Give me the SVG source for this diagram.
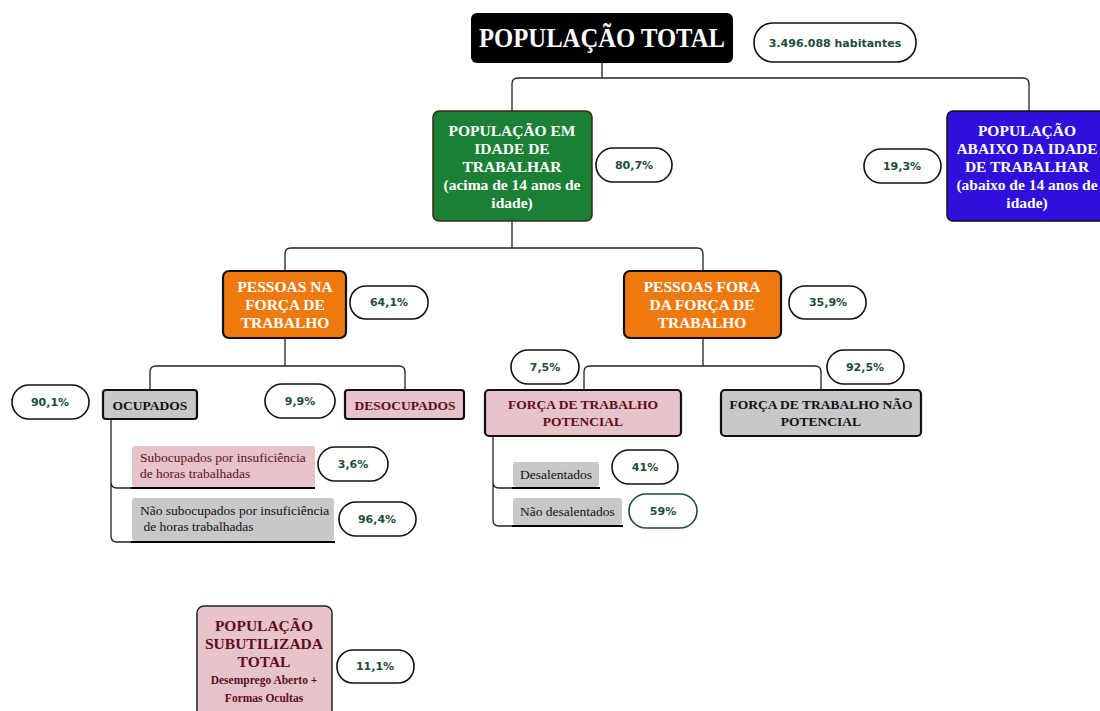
<svg xmlns="http://www.w3.org/2000/svg" width="1100" height="711" viewBox="0 0 1100 711">
<style>
.pill{fill:#fff;stroke:#111;stroke-width:1.6}
.pt{font-family:"DejaVu Sans",Verdana,sans-serif;font-weight:bold;font-size:11px;fill:#1d4d39;text-anchor:middle}
.wt{font-family:"Liberation Serif","Times New Roman",serif;font-weight:bold;fill:#fff;text-anchor:middle}
.dt{font-family:"Liberation Serif","Times New Roman",serif;font-weight:bold;fill:#5e0d1c;text-anchor:middle}
.kt{font-family:"Liberation Serif","Times New Roman",serif;font-weight:bold;fill:#111;text-anchor:middle}
.st{font-family:"Liberation Serif","Times New Roman",serif;font-size:13.5px}
.con{fill:none;stroke:#222;stroke-width:1.3}
.ul{stroke:#000;stroke-width:2.2}
</style>
<g id="connectors">
<path class="con" d="M602 63V78M512 111V84Q512 78 518 78H1023Q1029 78 1029 84V111"/>
<path class="con" d="M512 221V248M285 272V254Q285 248 291 248H697Q703 248 703 254V272"/>
<path class="con" d="M285 338V366M150 390V372Q150 366 156 366H399Q405 366 405 372V390"/>
<path class="con" d="M703 338V366M584 390V372Q584 366 590 366H815Q821 366 821 372V390"/>
<path class="con" d="M111 419V482Q111 488 117 488H131M111 482V536Q111 542 117 542H131"/>
<path class="con" d="M493 436V482Q493 488 499 488H512M493 482V520Q493 526 499 526H512"/>
</g>
<g id="n-total">
<rect x="471" y="13" width="262" height="50" rx="6" fill="#000"/>
<text class="wt" x="602" y="47" font-size="27" textLength="246" lengthAdjust="spacingAndGlyphs">POPULAÇÃO TOTAL</text>
</g>
<g id="p-total"><rect class="pill" x="754" y="23" width="162" height="39" rx="19"/><text class="pt" x="835" y="47">3.496.088 habitantes</text></g>
<g id="n-idade">
<rect x="433" y="111" width="159" height="110" rx="6" fill="#1b7f35" stroke="#3a2a1a" stroke-width="1.5"/>
<text class="wt" font-size="15.5"><tspan x="512" y="136">POPULAÇÃO EM</tspan><tspan x="512" y="154">IDADE DE</tspan><tspan x="512" y="172">TRABALHAR</tspan><tspan x="512" y="190">(acima de 14 anos de</tspan><tspan x="512" y="208">idade)</tspan></text>
</g>
<g id="p-idade"><rect class="pill" x="596" y="148" width="76" height="34" rx="17"/><text class="pt" x="634" y="169">80,7%</text></g>
<g id="n-abaixo">
<rect x="947" y="111" width="160" height="110" rx="6" fill="#2e0fdc" stroke="#111" stroke-width="1.5"/>
<text class="wt" font-size="15.5"><tspan x="1027" y="136">POPULAÇÃO</tspan><tspan x="1027" y="154">ABAIXO DA IDADE</tspan><tspan x="1027" y="172">DE TRABALHAR</tspan><tspan x="1027" y="190">(abaixo de 14 anos de</tspan><tspan x="1027" y="208">idade)</tspan></text>
</g>
<g id="p-abaixo"><rect class="pill" x="864" y="149" width="77" height="34" rx="17"/><text class="pt" x="902" y="170">19,3%</text></g>
<g id="n-na">
<rect x="223" y="271" width="123" height="67" rx="6" fill="#ee790f" stroke="#111" stroke-width="2.2"/>
<text class="wt" font-size="15.5"><tspan x="285" y="292">PESSOAS NA</tspan><tspan x="285" y="310">FORÇA DE</tspan><tspan x="285" y="328">TRABALHO</tspan></text>
</g>
<g id="p-na"><rect class="pill" x="350" y="286" width="78" height="33" rx="16"/><text class="pt" x="389" y="306">64,1%</text></g>
<g id="n-fora">
<rect x="624" y="271" width="157" height="67" rx="6" fill="#ee790f" stroke="#111" stroke-width="2.2"/>
<text class="wt" font-size="15.5"><tspan x="702" y="292">PESSOAS FORA</tspan><tspan x="702" y="310">DA FORÇA DE</tspan><tspan x="702" y="328">TRABALHO</tspan></text>
</g>
<g id="p-fora"><rect class="pill" x="789" y="286" width="77" height="33" rx="16"/><text class="pt" x="828" y="306">35,9%</text></g>
<g id="n-ocup">
<rect x="103" y="390" width="94" height="29" rx="3" fill="#c8c8c8" stroke="#111" stroke-width="2.2"/>
<text class="kt" x="150" y="410" font-size="13.5">OCUPADOS</text>
</g>
<g id="p-ocup"><rect class="pill" x="12" y="385" width="77" height="34" rx="17"/><text class="pt" x="50" y="406">90,1%</text></g>
<g id="n-desoc">
<rect x="345" y="390" width="119" height="29" rx="3" fill="#e6c4c9" stroke="#111" stroke-width="2.2"/>
<text class="dt" x="405" y="410" font-size="13.5">DESOCUPADOS</text>
</g>
<g id="p-desoc"><rect class="pill" x="265" y="384" width="70" height="34" rx="17"/><text class="pt" x="300" y="405">9,9%</text></g>
<g id="n-pot">
<rect x="485" y="390" width="196" height="46" rx="4" fill="#e6c4c9" stroke="#111" stroke-width="2.2"/>
<text class="dt" font-size="13.5"><tspan x="583" y="409">FORÇA DE TRABALHO</tspan><tspan x="583" y="426">POTENCIAL</tspan></text>
</g>
<g id="p-pot"><rect class="pill" x="511" y="350" width="68" height="34" rx="17"/><text class="pt" x="545" y="371">7,5%</text></g>
<g id="n-naopot">
<rect x="721" y="390" width="200" height="46" rx="4" fill="#c8c8c8" stroke="#111" stroke-width="2.2"/>
<text class="kt" font-size="13.5"><tspan x="821" y="409">FORÇA DE TRABALHO NÃO</tspan><tspan x="821" y="426">POTENCIAL</tspan></text>
</g>
<g id="p-naopot"><rect class="pill" x="827" y="350" width="77" height="34" rx="17"/><text class="pt" x="865" y="371">92,5%</text></g>
<g id="n-sub">
<rect x="132" y="446" width="183" height="41" rx="3" fill="#e6c4c9"/>
<line class="ul" x1="131" y1="488" x2="315" y2="488"/>
<text class="st" fill="#5e1020"><tspan x="140" y="462">Subocupados por insuficiência</tspan><tspan x="140" y="478">de horas trabalhadas</tspan></text>
</g>
<g id="p-sub"><rect class="pill" x="318" y="447" width="70" height="34" rx="17"/><text class="pt" x="353" y="468">3,6%</text></g>
<g id="n-naosub">
<rect x="132" y="498" width="202" height="43" rx="3" fill="#c8c8c8"/>
<line class="ul" x1="131" y1="542" x2="335" y2="542"/>
<text class="st" fill="#111"><tspan x="140" y="515">Não subocupados por insuficiência</tspan><tspan x="140" y="531"> de horas trabalhadas</tspan></text>
</g>
<g id="p-naosub"><rect class="pill" x="339" y="502" width="77" height="34" rx="17"/><text class="pt" x="377" y="523">96,4%</text></g>
<g id="n-desal">
<rect x="513" y="462" width="86" height="25" rx="3" fill="#c8c8c8"/>
<line class="ul" x1="512" y1="488" x2="600" y2="488"/>
<text class="st" x="520" y="479" fill="#111">Desalentados</text>
</g>
<g id="p-desal"><rect class="pill" x="612" y="450" width="66" height="34" rx="17"/><text class="pt" x="645" y="471">41%</text></g>
<g id="n-naodesal">
<rect x="513" y="498" width="109" height="27" rx="3" fill="#c8c8c8"/>
<line class="ul" x1="512" y1="526" x2="623" y2="526"/>
<text class="st" x="520" y="516" fill="#111">Não desalentados</text>
</g>
<g id="p-naodesal"><rect x="629" y="494" width="68" height="34" rx="17" fill="#fff" stroke="#1d4d39" stroke-width="1.6"/><text class="pt" x="663" y="515">59%</text></g>
<g id="n-subut">
<rect x="197" y="606" width="135" height="115" rx="7" fill="#e6c4c9" stroke="#222" stroke-width="1.5"/>
<text class="dt" font-size="15.5"><tspan x="264" y="631">POPULAÇÃO</tspan><tspan x="264" y="649">SUBUTILIZADA</tspan><tspan x="264" y="667">TOTAL</tspan></text>
<text class="dt" font-size="11.5"><tspan x="264" y="684">Desemprego Aberto +</tspan><tspan x="264" y="702">Formas Ocultas</tspan></text>
</g>
<g id="p-subut"><rect class="pill" x="337" y="650" width="77" height="33" rx="16"/><text class="pt" x="375" y="670">11,1%</text></g>
</svg>
